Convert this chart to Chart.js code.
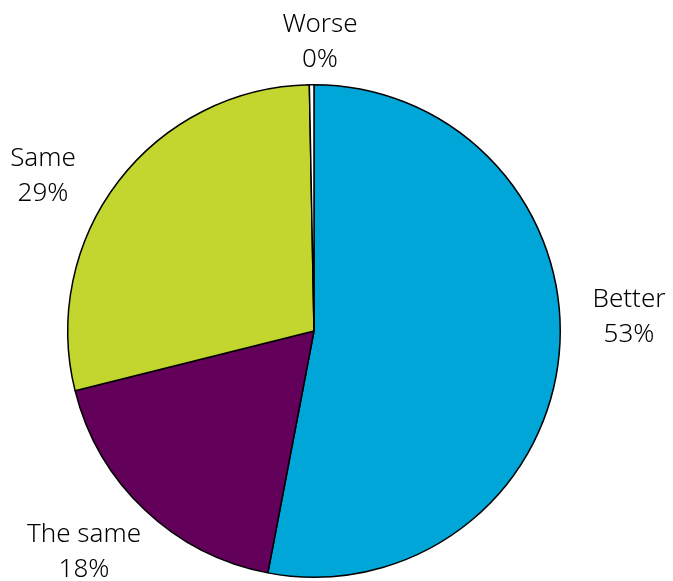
<!DOCTYPE html>
<html>
<head>
<meta charset="utf-8">
<script src="https://cdn.jsdelivr.net/npm/chart.js@4/dist/chart.umd.min.js"></script>
<style>
  html, body { margin: 0; padding: 0; background: #fff; }
  #wrap { width: 673px; height: 581px; position: relative; }
</style>
</head>
<body>
<div id="wrap"><canvas id="pie_chart"></canvas></div>
<script>
// answers, clockwise from 12 o'clock
const categories = ['Better', 'The same', 'Same', 'Worse'];
const shares = [53.0, 18.1, 28.6, 0.3]; // percent
const slice_colours = ['#00a6d8', '#62005a', '#c3d62f', '#ffffff'];

// where each label sits, relative to the pie centre (first line baseline)
const label_offsets = {
  'Better':   [315, -24],
  'The same': [-230, 211],
  'Same':     [-271, -165],
  'Worse':    [6, -299]
};

// writes "name / nn%" next to each slice
const outside_labels = {
  id: 'outside_labels',
  afterDraw(chart) {
    const ctx = chart.ctx;
    const meta = chart.getDatasetMeta(0);
    const cx = meta.data[0].x, cy = meta.data[0].y;
    ctx.save();
    ctx.fillStyle = '#000';
    ctx.font = '300 26px "Noto Sans", "Open Sans", sans-serif';
    ctx.textAlign = 'center';
    ctx.textBaseline = 'alphabetic';
    for (let i = 0; i < categories.length; i++) {
      const off = label_offsets[categories[i]];
      const x = cx + off[0], y = cy + off[1];
      ctx.fillText(categories[i], x, y);
      ctx.fillText(Math.round(shares[i]) + '%', x, y + 35);
    }
    ctx.restore();
  }
};

const config = {
  type: 'pie',
  data: {
    labels: categories,
    datasets: [{
      data: shares,
      backgroundColor: slice_colours,
      borderColor: '#000',
      borderWidth: 1.5
    }]
  },
  options: {
    responsive: true,
    maintainAspectRatio: false,
    animation: false,
    layout: { padding: { left: 67, right: 112, top: 84, bottom: 3 } },
    plugins: {
      legend: { display: false },
      tooltip: { enabled: false }
    }
  },
  plugins: [outside_labels]
};
const pie_chart = new Chart(document.getElementById('pie_chart'), config);
</script>
</body>
</html>
